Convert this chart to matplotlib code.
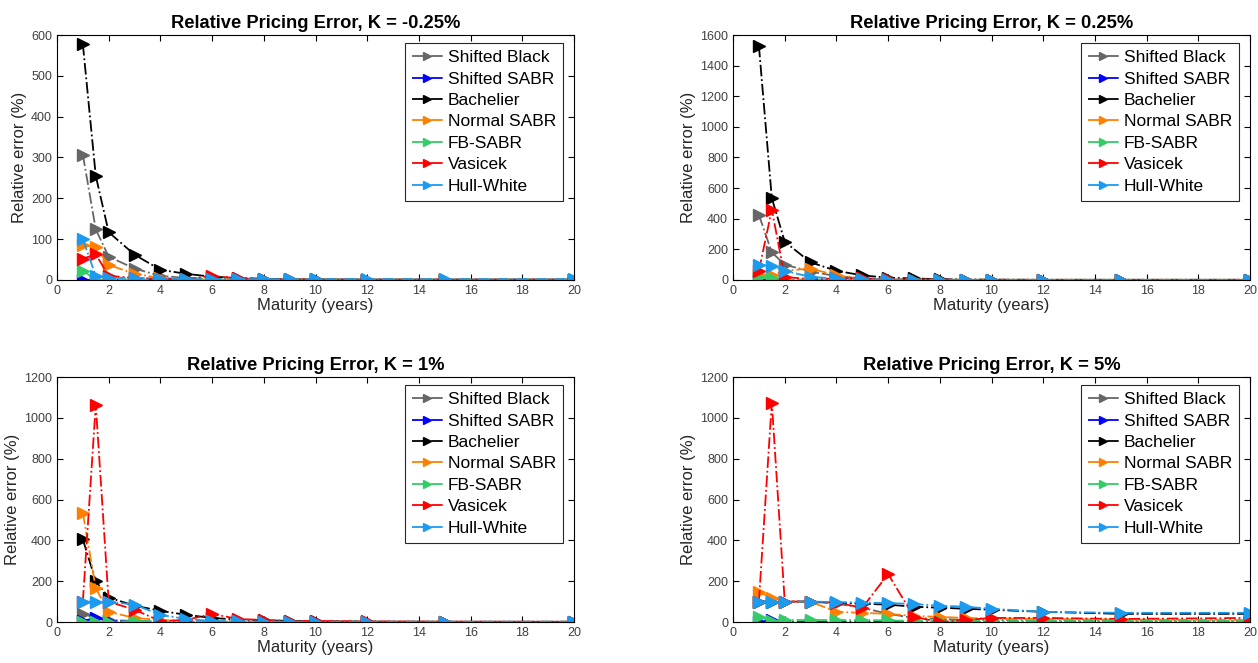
import matplotlib
matplotlib.use("Agg")
import matplotlib.pyplot as plt

plt.rcParams["font.family"] = ["Liberation Sans", "DejaVu Sans"]

maturity = [1, 1.5, 2, 3, 4, 5, 6, 7, 8, 9, 10, 12, 15, 20]
models = ["Shifted Black", "Shifted SABR", "Bachelier", "Normal SABR",
          "FB-SABR", "Vasicek", "Hull-White"]
colors = ["#666666", "#0000FF", "#000000", "#FF8000", "#33CC66", "#FF0000", "#1A9BF0"]

strikes = ["-0.25%", "0.25%", "1%", "5%"]
ytops = [600, 1600, 1200, 1200]
ysteps = [100, 200, 200, 200]

# relative error (%) per model, per strike
err_m025 = [
    [307, 124, 57, 28, 10, 5, 3, 2, 1, 1, 1, 1, 0.5, 0.5],
    [0, 0, 0, 0, 0, 0, 0, 0, 0, 0, 0, 0, 0, 0],
    [578, 255, 117, 62, 25, 15, 8, 5, 3, 2, 2, 1, 1, 1],
    [85, 80, 37, 15, 5, 3, 2, 1, 1, 1, 1, 1, 1, 1],
    [23, 0, 2, 1, 1, 1, 1, 1, 1, 1, 1, 1, 1, 1],
    [52, 63, 10, 5, 3, 2, 10, 4, 2, 2, 1, 1, 1, 1],
    [100, 10, 5, 5, 3, 2, 2, 2, 2, 2, 2, 2, 2, 2],
]
err_025 = [
    [425, 180, 100, 55, 25, 10, 5, 3, 2, 1, 1, 1, 1, 1],
    [0, 0, 0, 0, 0, 0, 0, 0, 0, 0, 0, 0, 0, 0],
    [1530, 535, 250, 115, 60, 30, 15, 10, 5, 3, 2, 1, 1, 1],
    [30, 30, 60, 75, 30, 10, 5, 3, 2, 1, 1, 1, 1, 1],
    [20, 10, 5, 3, 2, 1, 1, 1, 1, 1, 1, 1, 1, 1],
    [60, 460, 20, 5, 10, 10, 5, 3, 2, 1, 1, 1, 1, 1],
    [100, 90, 60, 20, 10, 5, 3, 2, 2, 1, 1, 1, 1, 1],
]
err_1 = [
    [40, 20, 10, 5, 2, 1, 1, 1, 1, 1, 1, 1, 1, 1],
    [5, 20, 5, 2, 1, 1, 1, 1, 1, 1, 1, 1, 1, 1],
    [405, 200, 120, 80, 55, 35, 20, 12, 8, 6, 4, 2, 1, 1],
    [535, 165, 50, 20, 10, 5, 3, 2, 1, 1, 1, 1, 1, 1],
    [0, 0, 0, 5, 2, 1, 1, 1, 1, 1, 1, 1, 1, 1],
    [100, 1065, 100, 60, 5, 10, 40, 15, 10, 5, 5, 3, 2, 1],
    [100, 100, 100, 85, 35, 15, 5, 3, 2, 2, 1, 1, 1, 1],
]
err_5 = [
    [100, 100, 100, 100, 90, 70, 40, 20, 15, 10, 10, 8, 5, 5],
    [0, 10, 0, 0, 0, 0, 0, 0, 0, 0, 0, 0, 0, 0],
    [100, 100, 100, 100, 95, 90, 85, 75, 70, 65, 60, 50, 40, 40],
    [145, 120, 100, 100, 50, 45, 40, 30, 25, 20, 18, 15, 12, 10],
    [25, 5, 10, 10, 10, 10, 8, 5, 5, 5, 5, 5, 5, 5],
    [100, 1075, 100, 100, 95, 70, 235, 25, 0, 10, 20, 20, 15, 20],
    [100, 100, 100, 100, 98, 95, 93, 88, 80, 75, 65, 50, 45, 45],
]
errors = [err_m025, err_025, err_1, err_5]

fig = plt.figure(figsize=(12.58, 6.63), dpi=100)
boxes = [(0.0453, 0.5777), (0.5827, 0.5777), (0.0453, 0.0618), (0.5827, 0.0618)]

for i in range(4):
    ax = fig.add_axes([boxes[i][0], boxes[i][1], 0.411, 0.3695])
    for name, col, ys in zip(models, colors, errors[i]):
        ax.plot(maturity, ys, linestyle="-.", color=col, marker=">",
                markersize=8, linewidth=1.3, label=name)
    ax.set_xlim(0, 20)
    ax.set_ylim(0, ytops[i])
    ax.set_xticks(range(0, 21, 2))
    ax.set_yticks(range(0, ytops[i] + 1, ysteps[i]))
    ax.tick_params(direction="in", top=True, right=True, labelsize=9,
                   labelcolor="#404040", length=4)
    ax.set_title("Relative Pricing Error, K = %s" % strikes[i],
                 fontsize=13.2, fontweight="bold", pad=5)
    ax.set_xlabel("Maturity (years)", fontsize=12, color="#262626", labelpad=1)
    ax.set_ylabel("Relative error (%)", fontsize=12, color="#262626", labelpad=3)
    leg = ax.legend(loc="upper right", fontsize=12.5, frameon=True, fancybox=False,
                    edgecolor="#262626", framealpha=1, handlelength=1.8,
                    handletextpad=0.3, labelspacing=0.36, borderpad=0.4,
                    borderaxespad=0.0, markerscale=0.75,
                    bbox_to_anchor=(0.979, 0.967))
    leg.get_frame().set_linewidth(0.8)

fig.savefig("out.png", dpi=100)
